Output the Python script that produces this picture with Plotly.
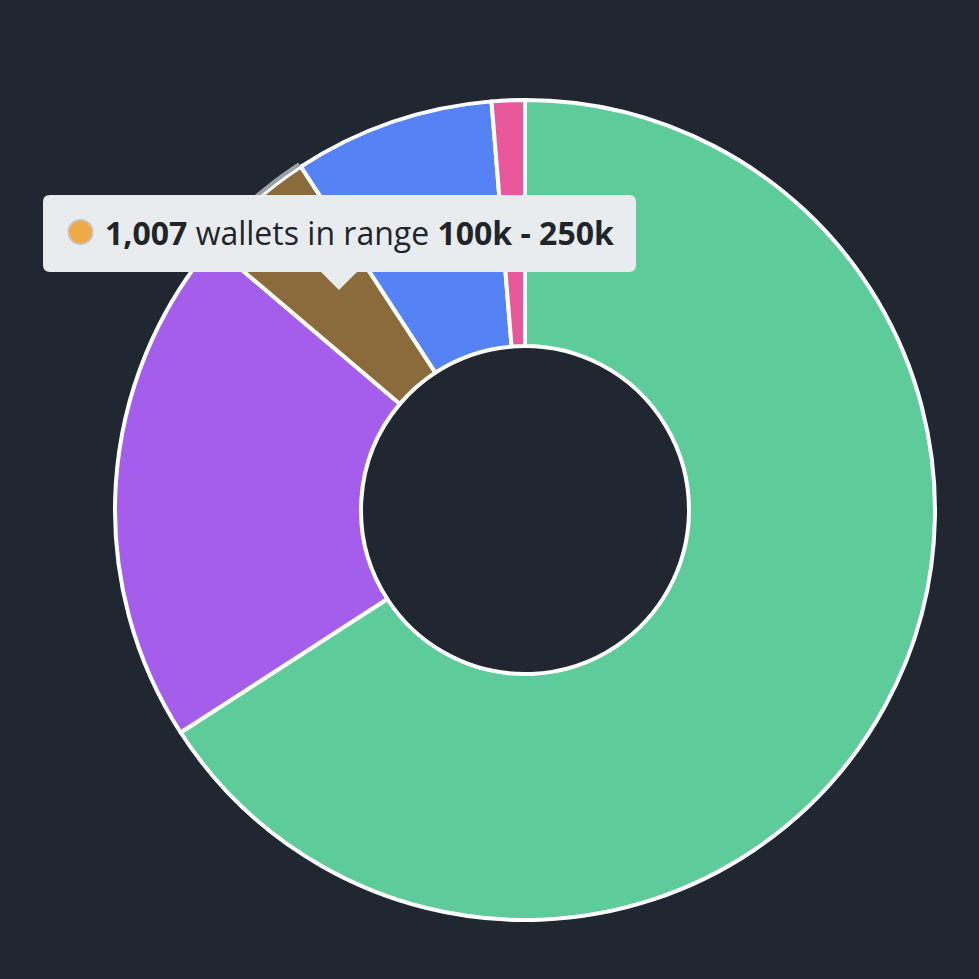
import math
import plotly.graph_objects as go

# ---- data ----
ranges = ["0 - 10k", "10k - 100k", "100k - 250k", "250k - 1M", "1M+"]
wallets = [14420, 4450, 1007, 1730, 285]
colors = ["#5ecb9b", "#a55eec", "#8b6b3b", "#5583f5", "#e8589b"]
hover_index = 2
hover_dot_color = "#f0aa45"

W = H = 979
BG = "#212731"

def px(x):
    return x / W

def py(y):
    return 1 - y / H

cx, cy, R = 525, 510, 410

fig = go.Figure()
fig.add_trace(go.Pie(
    labels=ranges,
    values=wallets,
    hole=0.4,
    sort=False,
    direction="clockwise",
    rotation=0,
    marker=dict(colors=colors, line=dict(color="#ffffff", width=4)),
    textinfo="none",
    hoverinfo="skip",
    showlegend=False,
    domain=dict(x=[px(cx - R), px(cx + R)], y=[py(cy + R), py(cy - R)]),
))

# hover highlight: grey outer arc on the hovered slice
total = sum(wallets)
a0 = sum(wallets[:hover_index]) / total * 2 * math.pi
a1 = sum(wallets[:hover_index + 1]) / total * 2 * math.pi
pts = []
rr = R + 3
for i in range(31):
    a = a0 + (a1 - a0) * i / 30
    pts.append((cx + rr * math.sin(a), cy - rr * math.cos(a)))
arc = "M " + " L ".join(f"{px(x):.5f},{py(y):.5f}" for x, y in pts)
fig.add_shape(type="path", path=arc, xref="paper", yref="paper",
              line=dict(color="#9aa0a6", width=4), layer="above")

# tooltip box (rounded rect + caret)
x0, x1, y0, y1, r = 43, 636, 195, 272, 7
tipx, tipy, half = 339, 290, 18
def P(x, y):
    return f"{px(x):.5f},{py(y):.5f}"
path = (
    f"M {P(x0 + r, y0)} L {P(x1 - r, y0)} Q {P(x1, y0)} {P(x1, y0 + r)} "
    f"L {P(x1, y1 - r)} Q {P(x1, y1)} {P(x1 - r, y1)} "
    f"L {P(tipx + half, y1)} L {P(tipx, tipy)} L {P(tipx - half, y1)} "
    f"L {P(x0 + r, y1)} Q {P(x0, y1)} {P(x0, y1 - r)} "
    f"L {P(x0, y0 + r)} Q {P(x0, y0)} {P(x0 + r, y0)} Z"
)
fig.add_shape(type="path", path=path, xref="paper", yref="paper",
              fillcolor="#e9ecef", line=dict(width=0), layer="above")
fig.add_shape(type="circle", xref="paper", yref="paper",
              x0=px(68.5), x1=px(92.5), y0=py(244), y1=py(220),
              fillcolor=hover_dot_color, line=dict(color="#c9c2b8", width=2),
              layer="above")

label = f"<b>{wallets[hover_index]:,}</b> wallets in range <b>{ranges[hover_index]}</b>"
fig.add_annotation(x=px(103), y=py(233), xref="paper", yref="paper",
                   xanchor="left", yanchor="middle", showarrow=False,
                   text=label, font=dict(family="Open Sans", size=32, color="#212529"))

fig.update_layout(
    width=W, height=H,
    margin=dict(l=0, r=0, t=0, b=0),
    paper_bgcolor=BG, plot_bgcolor=BG,
)
fig.write_html("out.html")
